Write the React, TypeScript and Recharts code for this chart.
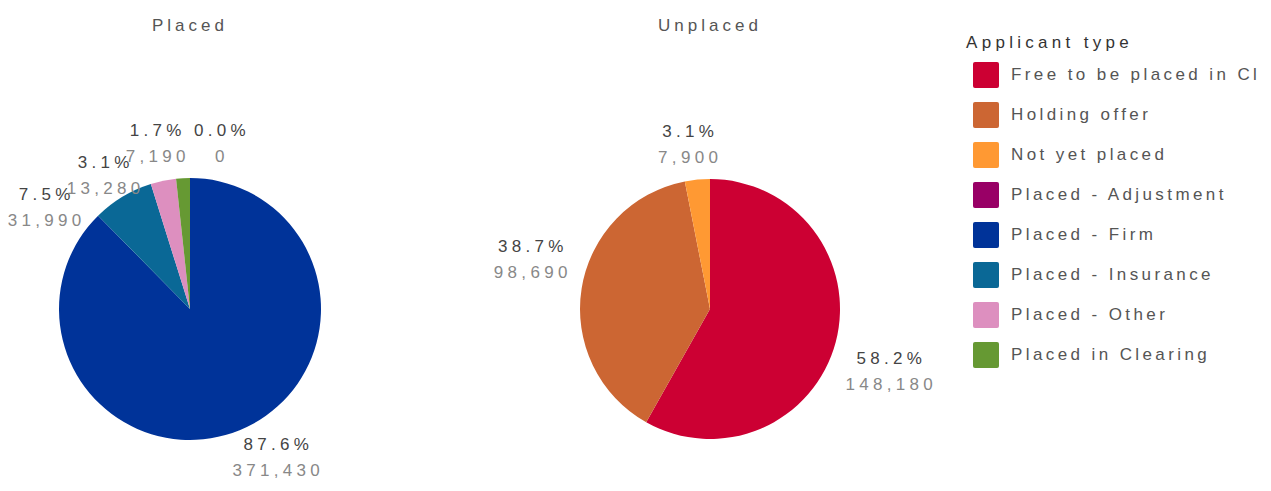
import { Customized, Legend, Pie, PieChart, Cell } from 'recharts';

const placedNames = ['Placed - Firm', 'Placed - Insurance', 'Placed - Other', 'Placed in Clearing', 'Placed - Adjustment'];
const placedValues = [371430, 31990, 13280, 7190, 0];

const unplacedNames = ['Free to be placed in Cl', 'Holding offer', 'Not yet placed'];
const unplacedValues = [148180, 98690, 7900];

const legendNames = [
  'Free to be placed in Cl',
  'Holding offer',
  'Not yet placed',
  'Placed - Adjustment',
  'Placed - Firm',
  'Placed - Insurance',
  'Placed - Other',
  'Placed in Clearing',
];
const legendColors = ['#cc0033', '#cc6633', '#ff9933', '#990066', '#003399', '#0a6896', '#dd8fbf', '#669933'];

const colorOf = (name: string) => legendColors[legendNames.indexOf(name)];

const placedData = placedNames.map((name, i) => ({ name, value: placedValues[i] }));
const unplacedData = unplacedNames.map((name, i) => ({ name, value: unplacedValues[i] }));

const FONT = '"Liberation Sans", Arial, sans-serif';
const LS = 4.3;
const R_OFF = 10;
const BOX_H = 50;
const LINE = 26;
const PUSH = 32;
const SLACK = 8;

const PLACED = { cx: 190, cy: 309, r: 131 };
const UNPLACED = { cx: 710, cy: 309, r: 130 };

type Lbl = { x: number; y: number; w: number; dx: number; dy: number; pct: string; val: string };

const estWidth = (s: string) => {
  let w = 0;
  for (const ch of s) w += ch === '.' || ch === ',' ? 9 : ch === '%' ? 19.4 : 13.8;
  return w;
};

// places the two-line labels outside the pie and nudges overlapping ones apart
function layoutLabels(values: number[], cx: number, cy: number, r: number): Lbl[] {
  const total = values.reduce((a, b) => a + b, 0);
  const R = r + R_OFF;
  let cum = 0;
  const items: Lbl[] = values.map((v) => {
    const a = ((cum + v / 2) / total) * 2 * Math.PI;
    cum += v;
    const dx = Math.sin(a);
    const dy = -Math.cos(a);
    const pct = `${((v / total) * 100).toFixed(1)}%`;
    const val = v.toLocaleString('en-US');
    const w = Math.max(estWidth(pct), estWidth(val));
    const fx = Math.sign(dx) * Math.min(1, 2 * Math.abs(dx));
    const fy = dy * (BOX_H / 2) + Math.sign(dy) * (1 - Math.abs(dy)) * 28 - Math.max(0, dy - 0.5) * 16;
    return { dx, dy, w, pct, val, x: cx + R * dx + (fx * w) / 2, y: cy + R * dy + fy };
  });

  // labels sitting right above the centre: spread them sideways
  const top = items.filter((it) => it.dy < -0.995).sort((a, b) => a.x - b.x);
  for (let i = 1; i < top.length; i++) {
    const a = top[i - 1];
    const b = top[i];
    const ov = a.x + a.w / 2 - (b.x - b.w / 2) + 4;
    if (ov > 0 && Math.abs(a.y - b.y) < BOX_H) {
      a.x -= ov * 0.4;
      b.x += ov * 0.6;
    }
  }

  // labels on one side: push them down, keep them hugging the pie
  for (const side of [-1, 1]) {
    const s = items.filter((it) => it.dx * side > 0.01).sort((a, b) => a.y - b.y);
    for (let i = 1; i < s.length; i++) {
      const a = s[i - 1];
      const b = s[i];
      if (Math.abs(a.x - b.x) < (a.w + b.w) / 2 && b.y < a.y + PUSH) {
        b.y = a.y + PUSH;
        const ay = b.y - (b.dy * BOX_H) / 2 - cy;
        if (Math.abs(ay) < R) {
          const ax = cx + side * Math.sqrt(R * R - ay * ay);
          b.x = 0.7 * (ax + (b.dx * b.w) / 2) + 0.3 * b.x;
        }
        if (side < 0) {
          const aLeft = a.x - estWidth(a.val) / 2 + SLACK;
          const bRight = b.x + estWidth(b.pct) / 2;
          if (bRight > aLeft) b.x -= bRight - aLeft;
          b.x = Math.max(b.x, b.w / 2 + 2);
        }
      }
    }
  }
  return items;
}

const placedLabels = layoutLabels(placedValues, PLACED.cx, PLACED.cy, PLACED.r);
const unplacedLabels = layoutLabels(unplacedValues, UNPLACED.cx, UNPLACED.cy, UNPLACED.r);

const makeLabel = (labels: Lbl[]) => (props: any) => {
  const l = labels[props.index];
  if (!l) return null;
  const style = { fontFamily: FONT, fontSize: 17, letterSpacing: LS };
  return (
    <g key={`lbl-${props.index}`}>
      <text x={l.x} y={l.y - LINE / 2} textAnchor="middle" dominantBaseline="central" fill="#444" style={style}>
        {l.pct}
      </text>
      <text x={l.x} y={l.y + LINE / 2} textAnchor="middle" dominantBaseline="central" fill="#888" style={style}>
        {l.val}
      </text>
    </g>
  );
};

const LegendBox = () => (
  <div style={{ fontFamily: FONT, fontSize: 17 }}>
    <div style={{ color: '#333', height: 25, lineHeight: '25px', letterSpacing: 4.3 }}>Applicant type</div>
    {legendNames.map((name, i) => (
      <div key={name} style={{ display: 'flex', alignItems: 'center', height: 40 }}>
        <span style={{ width: 26, height: 26, background: legendColors[i], marginLeft: 7, marginRight: 12, borderRadius: 2 }} />
        <span style={{ color: '#555', letterSpacing: 3.4 }}>{name}</span>
      </div>
    ))}
  </div>
);

export default function App() {
  return (
    <div style={{ position: 'absolute', left: 0, top: 0, background: '#fff' }}>
      <PieChart width={1271} height={491} margin={{ top: 0, right: 0, bottom: 0, left: 0 }}>
        <Pie
          data={placedData}
          dataKey="value"
          nameKey="name"
          cx={PLACED.cx}
          cy={PLACED.cy}
          outerRadius={PLACED.r}
          startAngle={90}
          endAngle={-270}
          stroke="none"
          label={makeLabel(placedLabels)}
          labelLine={false}
          isAnimationActive={false}
        >
          {placedData.map((d) => (
            <Cell key={d.name} fill={colorOf(d.name)} />
          ))}
        </Pie>
        <Pie
          data={unplacedData}
          dataKey="value"
          nameKey="name"
          cx={UNPLACED.cx}
          cy={UNPLACED.cy}
          outerRadius={UNPLACED.r}
          startAngle={90}
          endAngle={-270}
          stroke="none"
          label={makeLabel(unplacedLabels)}
          labelLine={false}
          isAnimationActive={false}
        >
          {unplacedData.map((d) => (
            <Cell key={d.name} fill={colorOf(d.name)} />
          ))}
        </Pie>
        <Customized
          component={() => (
            <g style={{ fontFamily: FONT, fontSize: 17, letterSpacing: 4 }}>
              <text x={PLACED.cx} y={25} textAnchor="middle" dominantBaseline="central" fill="#555">
                Placed
              </text>
              <text x={UNPLACED.cx} y={25} textAnchor="middle" dominantBaseline="central" fill="#555">
                Unplaced
              </text>
            </g>
          )}
        />
        <Legend
          layout="vertical"
          verticalAlign="top"
          align="right"
          wrapperStyle={{ top: 30, left: 966, width: 305 }}
          content={() => <LegendBox />}
        />
      </PieChart>
    </div>
  );
}
